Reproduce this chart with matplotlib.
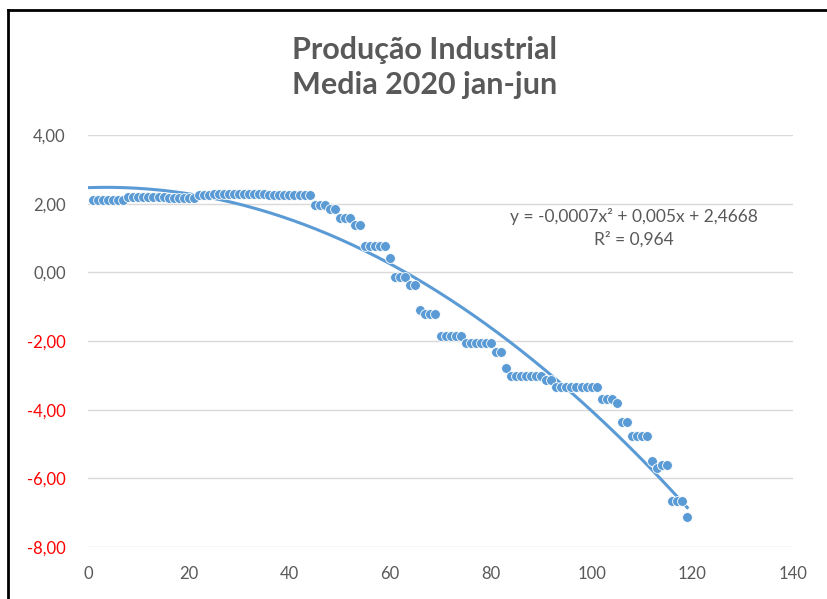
import numpy as np
import matplotlib
matplotlib.use("Agg")
import matplotlib.pyplot as plt
from matplotlib.lines import Line2D
from matplotlib.ticker import FuncFormatter

# media movel da producao industrial, valor por dia (x = 1..119)
grupos = [
    (1, 7, 2.10), (8, 15, 2.19), (16, 21, 2.17), (22, 24, 2.24),
    (25, 35, 2.29), (36, 44, 2.26), (45, 47, 1.97), (48, 49, 1.85),
    (50, 52, 1.59), (53, 54, 1.39), (55, 59, 0.78), (60, 60, 0.43),
    (61, 63, -0.15), (64, 65, -0.36), (66, 66, -1.10), (67, 69, -1.22),
    (70, 74, -1.84), (75, 80, -2.05), (81, 82, -2.31), (83, 83, -2.78),
    (84, 90, -3.03), (91, 92, -3.15), (93, 101, -3.35), (102, 104, -3.69),
    (105, 105, -3.80), (106, 107, -4.35), (108, 111, -4.78), (112, 112, -5.50),
    (113, 113, -5.70), (114, 115, -5.60), (116, 118, -6.67), (119, 119, -7.14),
]
dias = []
valores = []
for ini, fim, v in grupos:
    for d in range(ini, fim + 1):
        dias.append(d)
        valores.append(v)

# coeficientes da linha de tendencia polinomial
a2, a1, a0 = -0.0007, 0.005, 2.4668
r2 = 0.964

cinza = "#595959"
azul = "#5B9BD5"

plt.rcParams["font.family"] = ["Lato", "DejaVu Sans"]

fig = plt.figure(figsize=(8.27, 5.99), dpi=100)
ax = fig.add_axes([88 / 827, 1 - 547 / 599, 705 / 827, 412 / 599])

xt = np.linspace(0, 119, 200)
ax.plot(xt, a2 * xt**2 + a1 * xt + a0, color=azul, lw=2.2, zorder=2)
ax.scatter(dias, valores, s=50, color=azul, edgecolors="white",
           linewidths=0.6, zorder=3)

ax.set_xlim(0, 140)
ax.set_ylim(-8, 4)
ax.set_xticks(range(0, 141, 20))
ax.set_yticks(range(-8, 5, 2))
ax.yaxis.set_major_formatter(FuncFormatter(lambda v, _: f"{v:.2f}".replace(".", ",")))
ax.grid(axis="y", color="#D9D9D9", lw=1)
ax.set_axisbelow(True)
for s in ax.spines.values():
    s.set_visible(False)
ax.tick_params(length=0, labelsize=12, labelcolor=cinza)
ax.tick_params(axis="y", pad=16)
ax.tick_params(axis="x", pad=14)
for lbl, v in zip(ax.get_yticklabels(), ax.get_yticks()):
    if v < 0:
        lbl.set_color("#FF0000")

fig.text(0.767, 0.62, f"y = -0,0007x² + 0,005x + 2,4668\nR² = {r2:.3f}".replace("0.", "0,"),
         ha="center", va="center", fontsize=12.5, color=cinza, linespacing=1.45)

fig.text(0.513, 0.887, "Produção Industrial\nMedia 2020 jan-jun", ha="center",
         va="center", fontsize=22, fontweight="bold", color=cinza,
         linespacing=1.3)

# moldura do grafico (so topo e esquerda aparecem)
fig.add_artist(Line2D([8 / 827, 1], [1 - 10 / 599] * 2, color="black", lw=2))
fig.add_artist(Line2D([8 / 827] * 2, [0, 1 - 10 / 599], color="black", lw=2))

fig.savefig("out.png", dpi=100)
